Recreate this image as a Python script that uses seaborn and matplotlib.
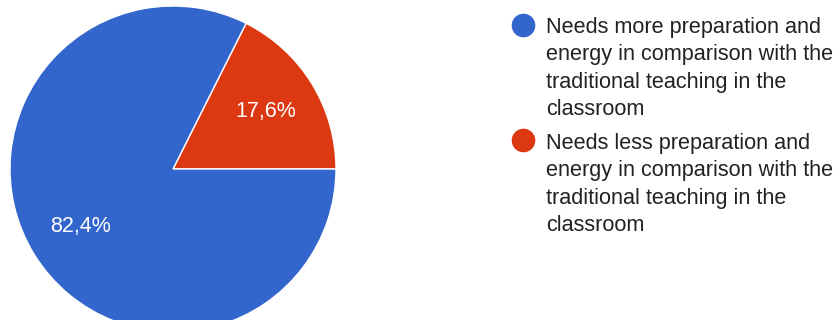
import matplotlib
matplotlib.use("Agg")
import matplotlib.pyplot as plt
from matplotlib.lines import Line2D
import seaborn as sns

# dados do grafico
respostas = [
    "Needs less preparation and\nenergy in comparison with the\ntraditional teaching in the\nclassroom",
    "Needs more preparation and\nenergy in comparison with the\ntraditional teaching in the\nclassroom",
]
percentuais = [17.6, 82.4]
cores = ["#DC3912", "#3366CC"]

sns.set_theme(style="white")
plt.rcParams["font.family"] = ["Liberation Sans", "DejaVu Sans"]

fig = plt.figure(figsize=(8.38, 3.2), dpi=100)
# pizza com raio ~163 px, centro em (173, 169) a partir do topo
ax = fig.add_axes([10 / 838, -12 / 320, 326 / 838, 326 / 320])

wedges, textos, pcts = ax.pie(
    percentuais,
    colors=cores,
    startangle=0,
    counterclock=True,
    radius=1,
    autopct=lambda p: f"{p:.1f}%".replace(".", ","),
    pctdistance=0.67,
    wedgeprops=dict(edgecolor="white", linewidth=1),
    textprops=dict(color="white", fontsize=15.5),
)
ax.set_xlim(-1, 1)
ax.set_ylim(-1, 1)
ax.axis("off")

# legenda: azul primeiro, depois vermelho
ordem = [1, 0]
handles = [Line2D([], [], marker="o", linestyle="", markersize=16,
                  markerfacecolor=cores[i], markeredgecolor=cores[i]) for i in ordem]
labels = [respostas[i] for i in ordem]
leg = fig.legend(handles, labels, loc="upper left", bbox_to_anchor=(515 / 838, 1 - 17 / 320),
                 frameon=False, fontsize=15.6, borderpad=0, handlelength=0.75,
                 handletextpad=0.7, labelspacing=0.58, borderaxespad=0)
for t in leg.get_texts():
    t.set_linespacing(1.4)
    t.set_color("#222222")
# marcador alinhado com a primeira linha do texto
for col in leg._legend_handle_box.get_children():
    for hp in col.get_children():
        hp.align = "top"

fig.savefig("out.png", dpi=100)
